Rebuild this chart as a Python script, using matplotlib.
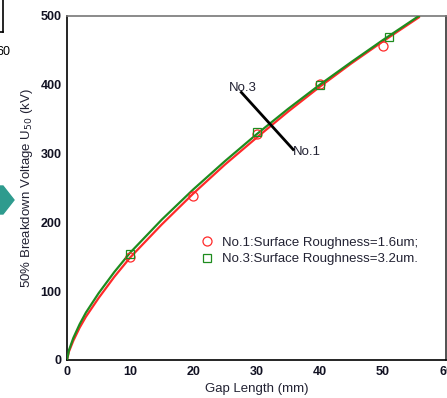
import matplotlib.pyplot as plt
from matplotlib.patches import Polygon

plt.rcParams['font.family'] = ['Liberation Sans', 'DejaVu Sans']

# measured points
gap_no1 = [10, 20, 30, 40, 50]
u50_no1 = [149, 239, 329, 401, 457]
gap_no3 = [10, 30, 40, 51]
u50_no3 = [154, 331, 399, 469]

# fitted curves
fit_x = [0, 0.3, 1, 2, 3, 5, 7.5, 10, 15, 20, 25, 30, 35, 40, 45, 50, 55.7]
fit_no1 = [0, 12, 28, 47, 63, 90, 121, 149, 197, 242, 284, 323, 361, 397, 431, 463, 498]
fit_no3 = [0, 14, 32, 52, 69, 97, 128, 156, 204, 248, 289, 328, 365, 400, 433, 465, 500]

label_no1 = "No.1:Surface Roughness=1.6um;"
label_no3 = "No.3:Surface Roughness=3.2um."

fig = plt.figure(figsize=(4.47, 3.98), dpi=100)
ax = fig.add_axes([67 / 447, 1 - 360 / 398, 379 / 447, 344 / 398])

red = '#ff2a2a'
green = '#1e8c1e'
txt = '#222233'

ax.plot(fit_x, fit_no1, color=red, lw=1.6, zorder=2)
ax.plot(fit_x, fit_no3, color=green, lw=1.6, zorder=3)
ax.plot(gap_no1, u50_no1, 'o', mfc='none', mec=red, ms=6.5, mew=0.9,
        label=label_no1, zorder=4)
ax.plot(gap_no3, u50_no3, 's', mfc='none', mec=green, ms=6, mew=0.9,
        label=label_no3, zorder=4)

# annotation arrows
ax.plot([27.6, 35.8], [389, 306], color='black', lw=2, zorder=5)
ax.text(25.6, 396, "No.3", fontsize=9.5, color=txt, va='center')
ax.text(35.8, 303, "No.1", fontsize=9.5, color=txt, va='center')

ax.set_xlim(0, 60)
ax.set_ylim(0, 500)
ax.set_xticks(range(0, 61, 10))
ax.set_yticks(range(0, 501, 100))
ax.tick_params(length=0, labelsize=9, pad=4, colors='#111122')
for t in ax.get_xticklabels() + ax.get_yticklabels():
    t.set_fontweight('bold')

ax.set_xlabel("Gap Length (mm)", fontsize=9.5, labelpad=4, color=txt)
ax.set_ylabel("50% Breakdown Voltage U$_{50}$ (kV)", fontsize=9.5, labelpad=4,
              color=txt)

ax.spines['top'].set_color('#777777')
ax.spines['right'].set_color('#333333')
for s in ax.spines.values():
    s.set_linewidth(1.2)

ax.legend(loc='upper left', bbox_to_anchor=(0.352, 0.358), frameon=False,
          borderpad=0, borderaxespad=0, fontsize=9.5, handlelength=1.0,
          handletextpad=0.6, labelspacing=0.3, labelcolor=txt)

# fragments of the neighbouring figure at the left edge
W, H = 447, 398
fig.add_artist(plt.Line2D([3 / W, 3 / W], [1, 1 - 32 / H], color='black',
                          lw=1.2, transform=fig.transFigure))
fig.add_artist(plt.Line2D([0, 3 / W], [1 - 32 / H, 1 - 32 / H], color='black',
                          lw=1.2, transform=fig.transFigure))
fig.text(-4 / W, 1 - 52 / H, "60", fontsize=9, va='center', ha='left')
arrow = Polygon([(0, 1 - 186 / H), (3 / W, 1 - 186 / H), (14 / W, 1 - 200 / H),
                 (3 / W, 1 - 214 / H), (0, 1 - 214 / H)],
                closed=True, color='#2e9b8e', transform=fig.transFigure)
fig.add_artist(arrow)

fig.savefig('out.png', dpi=100)
